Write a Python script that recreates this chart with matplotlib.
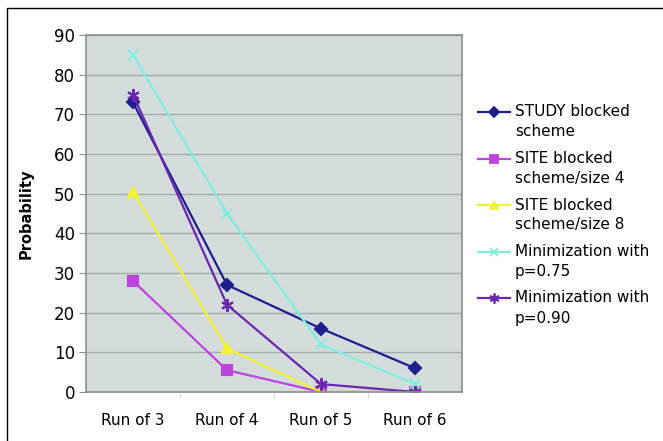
import matplotlib
matplotlib.use("Agg")
import matplotlib.pyplot as plt
from matplotlib.lines import Line2D
from matplotlib.patches import Rectangle

# data
categories = ["Run of 3", "Run of 4", "Run of 5", "Run of 6"]
study_blocked = [73, 27, 16, 6]
site_size4 = [28, 5.5, 0, 0]
site_size8 = [50.5, 11, 0, 0]
min_075 = [85, 45, 12, 2]
min_090 = [75, 22, 2, 0]

labels = [("STUDY blocked", "scheme"), ("SITE blocked", "scheme/size 4"),
          ("SITE blocked", "scheme/size 8"), ("Minimization with", "p=0.75"),
          ("Minimization with", "p=0.90")]

plt.rcParams['font.family'] = ['DejaVu Sans']

W, H = 663, 441
fig = plt.figure(figsize=(W / 100, H / 100), dpi=100)
ax = fig.add_axes([86 / W, 1 - 392 / H, 376 / W, 357 / H])

# outer border
fig.patches.append(Rectangle((7 / W, -0.05), 1.2, 1 - 8 / H + 0.05,
                             transform=fig.transFigure, fill=False,
                             edgecolor='black', linewidth=1.0))

x = range(len(categories))
series = [
    (study_blocked, '#1e1e8c', 'D', 6),
    (site_size4, '#bc44dc', 's', 7),
    (site_size8, '#f2f232', '^', 7),
    (min_075, '#80eedc', 'x', 7),
    (min_090, '#6a28b0', (6, 2, 0), 9),
]
for vals, col, mk, ms in series:
    ax.plot(x, vals, color=col, marker=mk, markersize=ms, linewidth=1.6,
            markeredgewidth=1.5)

ax.set_facecolor('#d3dbdb')
ax.set_xlim(-0.5, 3.5)
ax.set_ylim(0, 90)
ax.set_yticks(range(0, 91, 10))
ax.set_xticks(list(x))
ax.set_xticklabels(categories)
ax.set_xticks([0.5, 1.5, 2.5], minor=True)
ax.grid(axis='y', color='#a3adad', linewidth=1)
ax.set_axisbelow(True)
ax.tick_params(axis='x', which='major', length=0, pad=15, labelsize=11)
ax.tick_params(axis='x', which='minor', length=4, color='#c8d0d0')
ax.tick_params(axis='y', length=5, color='#8a9090', labelsize=12, pad=3)
for s in ax.spines.values():
    s.set_color('#8a9090')
    s.set_linewidth(1.2)
ax.set_ylabel("Probability", fontsize=10.5, fontweight='bold')
ax.yaxis.set_label_coords((34 - 86) / 376, 0.5)

# legend, handle next to first line of each label
y0, step, line_gap = 112, 46.5, 20
for i, ((vals, col, mk, ms), (l1, l2)) in enumerate(zip(series, labels)):
    yy = 1 - (y0 + i * step) / H
    fig.add_artist(Line2D([478 / W, 510 / W], [yy, yy], color=col,
                          linewidth=1.6, transform=fig.transFigure))
    fig.add_artist(Line2D([494 / W], [yy], color=col, marker=mk,
                          markersize=ms * 0.8, markeredgewidth=1.3,
                          transform=fig.transFigure))
    fig.text(515 / W, yy, l1, fontsize=11, va='center', ha='left')
    fig.text(515 / W, yy - line_gap / H, l2, fontsize=11, va='center',
             ha='left')

fig.savefig("out.png", dpi=100)
